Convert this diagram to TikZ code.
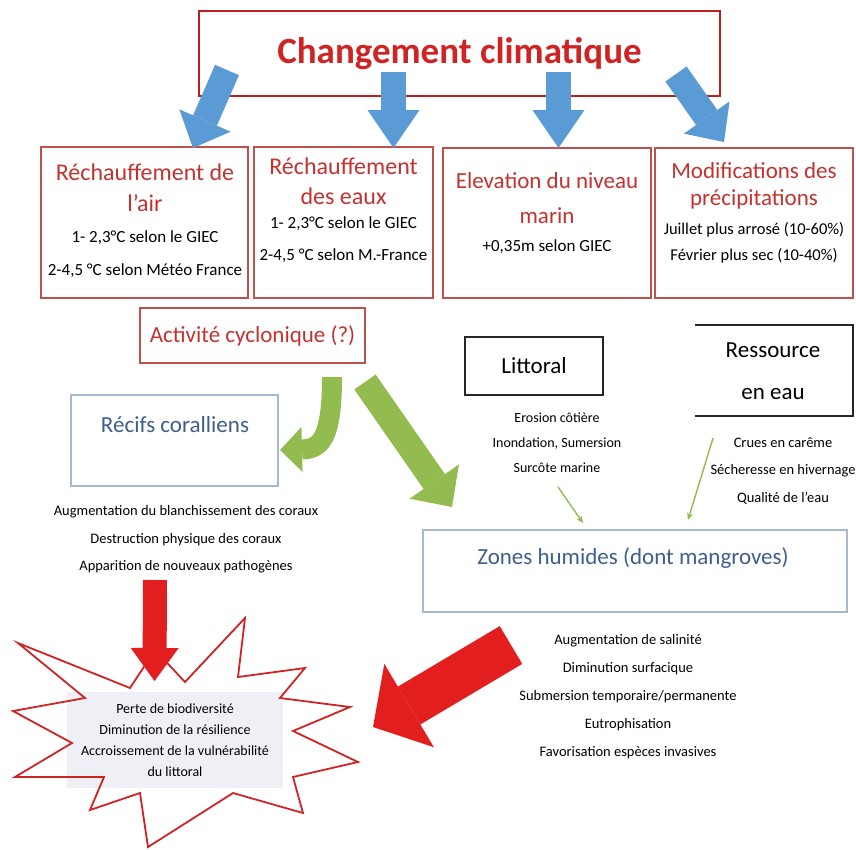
\documentclass[tikz,border=0pt]{standalone}
\usepackage{fontspec}
\setmainfont{Carlito}
\usetikzlibrary{positioning, arrows.meta}

\definecolor{titlered}{RGB}{208,36,36}
\definecolor{headred}{RGB}{196,50,48}
\definecolor{boxred}{RGB}{192,80,77}
\definecolor{arrowblue}{RGB}{91,155,213}
\definecolor{leafgreen}{RGB}{146,188,79}
\definecolor{alertred}{RGB}{226,30,30}
\definecolor{paleblue}{RGB}{167,185,207}
\definecolor{inkblue}{RGB}{62,95,140}
\definecolor{starbg}{RGB}{238,240,245}

\tikzset{
  redbox/.style={draw=boxred, line width=1.3pt, inner sep=0pt},
  bluebox/.style={draw=paleblue, line width=1.3pt, inner sep=0pt},
  blackbox/.style={draw=black!85, line width=1.3pt, inner sep=0pt},
  head/.style={text=headred, align=center, inner sep=0pt, font=\fontsize{23}{31}\selectfont},
  bluehead/.style={text=inkblue, inner sep=0pt, font=\fontsize{23}{28}\selectfont},
  detail/.style={align=center, inner sep=0pt, font=\fontsize{17}{33}\selectfont},
  list/.style={align=center, inner sep=0pt, font=\fontsize{14.5}{27.5}\selectfont},
  blockarrow/.style n args={3}{line width=#1, -{Triangle[width=#2, length=#3, line width=0pt]}},
  thinarrow/.style={leafgreen, line width=1.4pt, -{Stealth[length=7pt, width=6pt]}},
}

\begin{document}
\begin{tikzpicture}[x=1pt, y=-1pt]
  \fill[white] (0,0) rectangle (856,849);
  \useasboundingbox (0,0) rectangle (856,849);

  % Titre
  \node[draw=titlered!90!black, line width=2pt, minimum width=521pt, minimum height=85pt,
        text=titlered, font=\fontsize{37}{40}\selectfont\bfseries] (titre) at (459.5,53.5) {Changement climatique};

  % Les quatre effets
  \node[redbox, minimum width=207pt, minimum height=151pt] (air) at (144.5,222.5) {};
  \node[head, font=\fontsize{24}{31}\selectfont] (airtitre) at (145,188) {Réchauffement de\\l’air};
  \node[detail] (airval) at (145,254) {1- 2,3°C selon le GIEC\\2-4,5 °C selon Météo France};

  \node[redbox, minimum width=179pt, minimum height=151pt] (eaux) at (343.5,222.5) {};
  \node[head, font=\fontsize{24}{30}\selectfont] (eauxtitre) at (343.5,181) {Réchauffement\\des eaux};
  \node[detail, font=\fontsize{17}{32}\selectfont] (eauxval) at (343.5,240) {1- 2,3°C selon le GIEC\\2-4,5 °C selon M.-France};

  \node[redbox, minimum width=208pt, minimum height=150pt] (niveau) at (547,223) {};
  \node[head, font=\fontsize{23}{35}\selectfont] (niveautitre) at (547,198) {Elevation du niveau\\marin};
  \node[detail] (niveauval) at (547,247) {+0,35m selon GIEC};

  \node[redbox, minimum width=198pt, minimum height=150pt] (precip) at (754,223) {};
  \node[head, font=\fontsize{23}{27}\selectfont] (preciptitre) at (754,186) {Modifications des\\précipitations};
  \node[detail, font=\fontsize{16.5}{26}\selectfont] (precipval) at (754,243) {Juillet plus arrosé (10-60\%)\\Février plus sec (10-40\%)};

  % Fleches bleues depuis le titre
  \coordinate (b1s) at (227,70);   \coordinate (b1e) at (193,148);
  \coordinate (b2s) at (393.5,72); \coordinate (b2e) at (393.5,148);
  \coordinate (b3s) at (558.5,72); \coordinate (b3e) at (558.5,148);
  \coordinate (b4s) at (676,74);   \coordinate (b4e) at (724,142);
  \draw[blockarrow={26pt}{56pt}{30pt}, arrowblue] (b1s) -- (b1e);
  \draw[blockarrow={25pt}{52pt}{38pt}, arrowblue] (b2s) -- (b2e);
  \draw[blockarrow={25pt}{52pt}{38pt}, arrowblue] (b3s) -- (b3e);
  \draw[blockarrow={26pt}{56pt}{30pt}, arrowblue] (b4s) -- (b4e);

  % Milieux
  \node[redbox, minimum width=225pt, minimum height=55pt, text=headred,
        font=\fontsize{23}{28}\selectfont] (cyclone) at (252.5,335.5) {Activité cyclonique (?)};

  \node[bluebox, minimum width=207pt, minimum height=91pt] (recifs) at (174.5,440.5) {};
  \node[bluehead] (recifstitre) at (175,425) {Récifs coralliens};

  \node[blackbox, minimum width=138pt, minimum height=58pt,
        font=\fontsize{23}{28}\selectfont] (littoral) at (534,366) {Littoral};

  \node[align=center, font=\fontsize{23}{42}\selectfont] (ressource) at (773,371) {Ressource\\en eau};
  \draw[black!85, line width=1.3pt] (695,325) -| (853,416) -- (695,416);

  \node[bluebox, minimum width=424pt, minimum height=82pt] (zones) at (635,571) {};
  \node[bluehead] (zonestitre) at (633,558) {Zones humides (dont mangroves)};

  % Listes d'impacts
  \node[list] (coraux) at (186,539.5) {Augmentation du blanchissement des coraux\\Destruction physique des coraux\\Apparition de nouveaux pathogènes};
  \node[list, font=\fontsize{14}{25}\selectfont] (cotes) at (557,443) {Erosion côtière\\Inondation, Sumersion\\Surcôte marine};
  \node[list] (eauliste) at (783,471) {Crues en carême\\Sécheresse en hivernage\\Qualité de l’eau};
  \node[list, font=\fontsize{14.5}{28}\selectfont] (effets) at (628,696.5) {Augmentation de salinité\\Diminution surfacique\\Submersion temporaire/permanente\\Eutrophisation\\Favorisation espèces invasives};

  % Fleches vertes
  \coordinate (g1s) at (332,377); \coordinate (g1e) at (280,450);
  \coordinate (g2s) at (365,382); \coordinate (g2e) at (452,507);
  \draw[blockarrow={20pt}{45pt}{22pt}, leafgreen] (g1s) .. controls (332,440) and (320,449) .. (g1e);
  \draw[blockarrow={26pt}{60pt}{31pt}, leafgreen] (g2s) -- (g2e);

  \coordinate (t1s) at (558,487); \coordinate (t1e) at (583,523);
  \coordinate (t2s) at (713,438); \coordinate (t2e) at (688,520);
  \draw[thinarrow] (t1s) -- (t1e);
  \draw[thinarrow] (t2s) -- (t2e);

  % Etoile des consequences
  \fill[starbg] (67,692) rectangle (283,788);
  \draw[titlered, line width=1.8pt, line join=miter]
    (18,643) -- (130,688) -- (155,650) -- (185,682) -- (245,618) -- (238,677)
    -- (305,668) -- (280,698) -- (350,707) -- (293,731) -- (358,762) -- (293,777)
    -- (303,813) -- (233,793) -- (148,847) -- (140,793) -- (90,810) -- (104,777)
    -- (15,777) -- (72,743) -- (13,711) -- (85,698) -- cycle;
  \node[align=center, inner sep=0pt, font=\fontsize{14}{21}\selectfont] (pertes) at (175,740)
    {Perte de biodiversité\\Diminution de la résilience\\Accroissement de la vulnérabilité\\du littoral};

  % Fleches rouges
  \coordinate (r1s) at (155,580); \coordinate (r1e) at (154.5,681);
  \coordinate (r2s) at (511,645); \coordinate (r2e) at (373,727);
  \draw[blockarrow={24pt}{48pt}{33pt}, alertred] (r1s) -- (r1e);
  \draw[blockarrow={44pt}{97pt}{42pt}, alertred] (r2s) -- (r2e);
\end{tikzpicture}
\end{document}
